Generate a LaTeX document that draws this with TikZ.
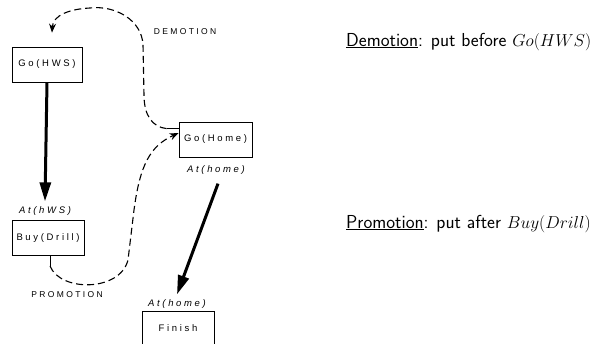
\documentclass[tikz,border=0pt]{standalone}
\usepackage{fontspec}
\usetikzlibrary{arrows.meta,calc}
\newfontfamily\labfont[LetterSpace=28]{Liberation Sans}
\begin{document}
\begin{tikzpicture}[x=1pt,y=-1pt,
  opbox/.style={draw,line width=0.8pt,minimum height=35pt,inner sep=0pt,font=\labfont\fontsize{9.5}{11}\selectfont},
  cond/.style={inner sep=0pt,font=\labfont\fontsize{9.5}{11}\selectfont\itshape},
  tag/.style={inner sep=0pt,font=\labfont\fontsize{8.5}{10}\selectfont},
  thick arrow/.style={line width=3pt,-{Triangle[length=19pt,width=11pt]}},
  threat/.style={line width=1.1pt,dash pattern=on 7pt off 4pt,-{Stealth[length=9pt,width=7pt]}},
  bigtext/.style={inner sep=0pt,anchor=base west,font=\sffamily\fontsize{18.8}{23}\selectfont}]
\useasboundingbox (0,0) rectangle (609,343);
\node[opbox,minimum width=70pt] (gohws) at (47,64.5) {Go(HWS)};
\node[opbox,minimum width=73pt] (gohome) at (215.5,139.5) {Go(Home)};
\node[opbox,minimum width=72pt] (buy) at (48,238) {Buy(Drill)};
\node[opbox,minimum width=72pt] (finish) at (178,328.5) {Finish};
\node[cond] (athws) at (45,211) {At(hWS)};
\node[cond] (athome1) at (216,170) {At(home)};
\node[cond] (athome2) at (177,304) {At(home)};
\node[tag] (dem) at (185,32) {DEMOTION};
\node[tag] (prom) at (67,295) {PROMOTION};
% thick causal links
\draw[thick arrow] (gohws.south) -- ([yshift=5pt]athws.north);
\draw[thick arrow] ([yshift=-9pt]athome1.south -| 218,0) -- ([yshift=5pt]athome2.north);
% demotion
\coordinate (d0) at ([yshift=-7pt]gohome.north west);
\coordinate (d1) at ($(d0)+(-12,0)$);
\coordinate (hwsin) at ([xshift=5pt,yshift=14pt]gohws.north);
\draw[line width=0.8pt] (d0) -- (d1);
\draw[threat] (d1) .. controls (152,127) and (144,115) .. (144,95)
  -- (143,45) .. controls (142,20) and (115,5) .. (90,8)
  .. controls (70,9) and (53,15) .. (hwsin);
% promotion
\coordinate (p0) at ([xshift=2pt]buy.south);
\coordinate (p1) at ($(p0)+(0,10)$);
\coordinate (homein) at ([yshift=6.5pt]gohome.west);
\draw[line width=0.8pt] (p0) -- (p1);
\draw[threat] (p1) .. controls (60,292) and (120,292) .. (128,260)
  -- (134,210) .. controls (140,165) and (150,146) .. (homein);
% right text
\node[bigtext] (demtext) at (346,46) {\underline{Demotion}: put before $Go(HWS)$};
\node[bigtext] (promtext) at (346,228) {\underline{Promotion}: put after $Buy(Drill)$};
\end{tikzpicture}
\end{document}
